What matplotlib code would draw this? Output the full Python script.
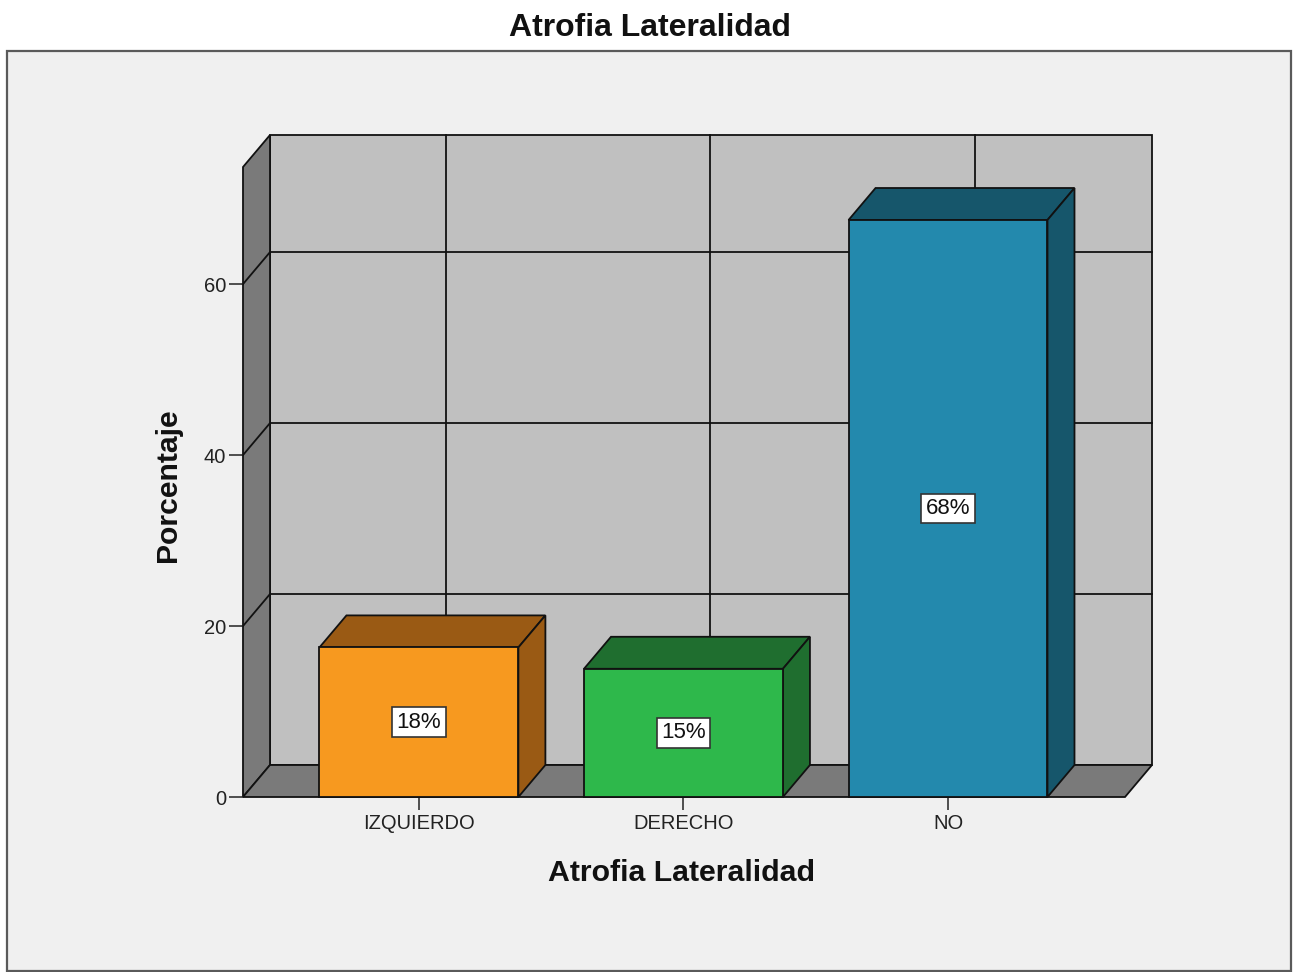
import matplotlib
matplotlib.use("Agg")
import matplotlib.pyplot as plt
from matplotlib.patches import Rectangle, Polygon

plt.rcParams["font.family"] = ["Liberation Sans", "DejaVu Sans"]

# ---- data ----
categories = ["IZQUIERDO", "DERECHO", "NO"]
percentages = [17.5, 15.0, 67.5]
y_ticks = [0, 20, 40, 60]
title_text = "Atrofia Lateralidad"
x_label = "Atrofia Lateralidad"
y_label = "Porcentaje"

# ---- styling ----
front_colors = ["#f7991f", "#2eb84b", "#2389ad"]
shade_colors = ["#9a5a14", "#1f6e2f", "#16566b"]
wall_color = "#c0c0c0"
side_color = "#7a7a7a"
edge_color = "#111111"

W, H = 1296, 972
fig = plt.figure(figsize=(W / 100, H / 100), dpi=100)
fig.patch.set_facecolor("white")

# outer chart frame
fig.add_artist(Rectangle((7 / W, 1 - 971 / H), (1291 - 7) / W, (971 - 51) / H,
                         transform=fig.transFigure, facecolor="#f0f0f0",
                         edgecolor="#5a5a5a", linewidth=1.6, zorder=0))

ax = fig.add_axes([243 / W, (H - 797) / H, 882 / W, 630 / H])
x0, x1 = -0.665, 2.669
y0, y1 = 0, 73.7
ax.set_xlim(x0, x1)
ax.set_ylim(y0, y1)
ax.patch.set_visible(False)
for s in ax.spines.values():
    s.set_visible(False)

# depth of the pseudo-3D box, converted from pixels to data units
ax_w_px, ax_h_px = 882, 630
DX = 27 * (x1 - x0) / ax_w_px
DY = 32 * (y1 - y0) / ax_h_px
BAR_W = 0.752
LW = 1.3

def poly(pts, fc, z, lw=LW):
    ax.add_patch(Polygon(pts, closed=True, facecolor=fc, edgecolor=edge_color,
                         linewidth=lw, joinstyle="miter", zorder=z, clip_on=False))

# back wall
poly([(x0 + DX, y0 + DY), (x1 + DX, y0 + DY), (x1 + DX, y1 + DY), (x0 + DX, y1 + DY)],
     wall_color, 1)
# left wall
poly([(x0, y0), (x0 + DX, y0 + DY), (x0 + DX, y1 + DY), (x0, y1)], side_color, 1.5)
# floor
poly([(x0, y0), (x1, y0), (x1 + DX, y0 + DY), (x0 + DX, y0 + DY)], side_color, 2)

# grid lines on the back and left walls
for t in y_ticks[1:]:
    ax.plot([x0 + DX, x1 + DX], [t + DY, t + DY], color=edge_color, lw=LW,
            zorder=1.2, clip_on=False)
    ax.plot([x0, x0 + DX], [t, t + DY], color=edge_color, lw=LW,
            zorder=1.6, clip_on=False)
for i in range(len(categories)):
    ax.plot([i + DX, i + DX], [y0 + DY, y1 + DY], color=edge_color, lw=LW,
            zorder=1.2, clip_on=False)

# bars
for i, (v, fc, sc) in enumerate(zip(percentages, front_colors, shade_colors)):
    l, r = i - BAR_W / 2, i + BAR_W / 2
    z = 3 + i
    poly([(l, v), (r, v), (r + DX, v + DY), (l + DX, v + DY)], sc, z)
    poly([(r, 0), (r + DX, DY), (r + DX, v + DY), (r, v)], sc, z)
    poly([(l, 0), (r, 0), (r, v), (l, v)], fc, z + 0.1)
    ax.text(i, v / 2, f"{v:.0f}%", ha="center", va="center", fontsize=16,
            color="#111111", zorder=z + 0.2,
            bbox=dict(boxstyle="square,pad=0.2", facecolor="white",
                      edgecolor="#333333", linewidth=1.2))

ax.set_xticks(range(len(categories)))
ax.set_xticklabels(categories)
ax.set_yticks(y_ticks)
ax.tick_params(axis="y", length=10, width=1.2, color="#333333", pad=2,
               labelsize=14.5, labelcolor="#222222")
ax.tick_params(axis="x", length=9.5, width=1.2, color="#333333", pad=3,
               labelsize=14.5, labelcolor="#222222")

fig.text(649.5 / W, 1 - 36 / H, title_text, ha="center", va="baseline",
         fontsize=23, fontweight="bold", color="#111111")
fig.text(682 / W, 1 - 881 / H, x_label, ha="center", va="baseline",
         fontsize=21.8, fontweight="bold", color="#111111")
fig.text(168.5 / W, 1 - 485 / H, y_label, ha="center", va="center", rotation=90,
         fontsize=21.7, fontweight="bold", color="#111111")

fig.savefig("out.png", dpi=100)
